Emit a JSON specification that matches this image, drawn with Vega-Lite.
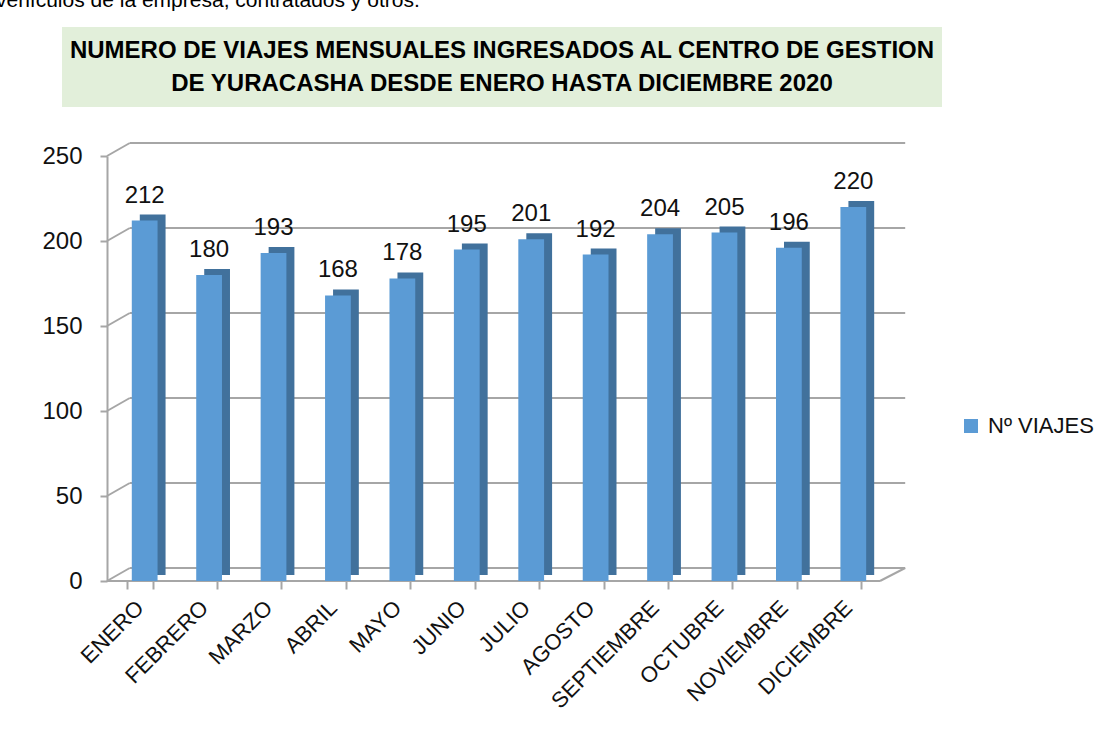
{
  "$schema": "https://vega.github.io/schema/vega-lite/v6.json",
  "padding": {"left": -4, "top": -10, "right": 5, "bottom": 5},
  "background": "white",
  "title": {"text": "vehículos de la empresa, contratados y otros.", "anchor": "start", "frame": "group", "dx": -66, "offset": 16, "fontSize": 21, "font": "Liberation Sans", "fontWeight": "normal", "color": "#000000"},
  "config": {
    "font": "Liberation Sans",
    "view": {"stroke": null}
  },
  "bounds": "flush",
  "center": true,
  "spacing": 49,
  "vconcat": [
    {
      "width": 880,
      "height": 80,
      "view": {"fill": "#e2efda", "stroke": null},
      "data": {"values": [{"t": "NUMERO DE VIAJES MENSUALES INGRESADOS AL CENTRO DE GESTION\nDE YURACASHA DESDE  ENERO HASTA DICIEMBRE 2020"}]},
      "mark": {"type": "text", "lineBreak": "\n", "fontSize": 24, "fontWeight": "bold", "font": "Liberation Sans", "lineHeight": 33, "baseline": "middle", "align": "center", "dy": -16, "color": "#000000"},
      "encoding": {"text": {"field": "t", "type": "nominal"}}
    },
    {
      "width": 790,
      "height": 425,
      "data": {"values": [
        {"mes": "ENERO", "viajes": 212},
        {"mes": "FEBRERO", "viajes": 180},
        {"mes": "MARZO", "viajes": 193},
        {"mes": "ABRIL", "viajes": 168},
        {"mes": "MAYO", "viajes": 178},
        {"mes": "JUNIO", "viajes": 195},
        {"mes": "JULIO", "viajes": 201},
        {"mes": "AGOSTO", "viajes": 192},
        {"mes": "SEPTIEMBRE", "viajes": 204},
        {"mes": "OCTUBRE", "viajes": 205},
        {"mes": "NOVIEMBRE", "viajes": 196},
        {"mes": "DICIEMBRE", "viajes": 220}
      ]},
      "layer": [
        {
          "data": {"values": [{"v": 0}, {"v": 50}, {"v": 100}, {"v": 150}, {"v": 200}, {"v": 250}]},
          "mark": {"type": "rule", "color": "#a6a6a6", "strokeWidth": 2, "yOffset": -13, "xOffset": 3, "x2Offset": 44},
          "encoding": {
            "x": {"datum": "ENERO", "type": "nominal", "bandPosition": 0},
            "x2": {"datum": "DICIEMBRE", "bandPosition": 1},
            "y": {"field": "v", "type": "quantitative", "scale": {"domain": [0, 250], "nice": false},
              "axis": {"title": null, "values": [0, 50, 100, 150, 200, 250], "grid": false, "labelFontSize": 24, "labelColor": "#111111", "labelPadding": 18, "tickSize": 7, "tickColor": "#a6a6a6", "tickWidth": 2, "domainColor": "#a6a6a6", "domainWidth": 2}}
          }
        },
        {
          "data": {"values": [{"v": 0}, {"v": 50}, {"v": 100}, {"v": 150}, {"v": 200}, {"v": 250}]},
          "mark": {"type": "rule", "color": "#a6a6a6", "strokeWidth": 2, "xOffset": -19.8, "x2Offset": 3, "y2Offset": -13},
          "encoding": {
            "x": {"datum": "ENERO", "type": "nominal", "bandPosition": 0},
            "x2": {"datum": "ENERO", "bandPosition": 0},
            "y": {"field": "v", "type": "quantitative"},
            "y2": {"field": "v"}
          }
        },
        {
          "data": {"values": [{"v": 0}]},
          "mark": {"type": "rule", "color": "#a6a6a6", "strokeWidth": 2, "xOffset": -19.8, "x2Offset": 18.8},
          "encoding": {
            "x": {"datum": "ENERO", "type": "nominal", "bandPosition": 0},
            "x2": {"datum": "DICIEMBRE", "bandPosition": 1},
            "y": {"field": "v", "type": "quantitative"}
          }
        },
        {
          "data": {"values": [{"v": 0}]},
          "mark": {"type": "rule", "color": "#a6a6a6", "strokeWidth": 2, "xOffset": 18.8, "x2Offset": 44, "y2Offset": -13},
          "encoding": {
            "x": {"datum": "DICIEMBRE", "type": "nominal", "bandPosition": 1},
            "x2": {"datum": "DICIEMBRE", "bandPosition": 1},
            "y": {"field": "v", "type": "quantitative"},
            "y2": {"field": "v"}
          }
        },
        {
          "mark": {"type": "bar", "color": "#41719c", "xOffset": 13, "x2Offset": 13, "yOffset": -6, "y2Offset": -6},
          "encoding": {
            "x": {"field": "mes", "type": "nominal", "sort": null,
              "scale": {"domain": ["ENERO", "FEBRERO", "MARZO", "ABRIL", "MAYO", "JUNIO", "JULIO", "AGOSTO", "SEPTIEMBRE", "OCTUBRE", "NOVIEMBRE", "DICIEMBRE"], "paddingInner": 0.6, "paddingOuter": 0.4316, "align": 0.356},
              "axis": {"title": null, "labelAngle": -45, "labelFontSize": 22, "labelColor": "#111111", "labelPadding": 15, "domain": false, "tickColor": "#a6a6a6", "tickWidth": 2, "tickSize": 8, "tickBand": "extent"}},
            "y": {"field": "viajes", "type": "quantitative"}
          }
        },
        {
          "mark": {"type": "bar", "xOffset": 5, "x2Offset": 5},
          "encoding": {
            "x": {"field": "mes", "type": "nominal", "sort": null},
            "y": {"field": "viajes", "type": "quantitative"},
            "color": {"datum": "Nº VIAJES", "type": "nominal", "scale": {"range": ["#5b9bd5"]},
              "legend": {"title": null, "orient": "none", "legendX": 898, "legendY": 388, "symbolType": "square", "symbolSize": 196, "symbolStrokeWidth": 0, "labelFontSize": 22, "labelColor": "#111111", "labelOffset": 6}}
          }
        },
        {
          "mark": {"type": "text", "xOffset": 5, "dy": -18, "baseline": "alphabetic", "fontSize": 24, "color": "#111111"},
          "encoding": {
            "x": {"field": "mes", "type": "nominal", "sort": null},
            "y": {"field": "viajes", "type": "quantitative"},
            "text": {"field": "viajes", "type": "quantitative"}
          }
        }
      ]
    }
  ]
}
